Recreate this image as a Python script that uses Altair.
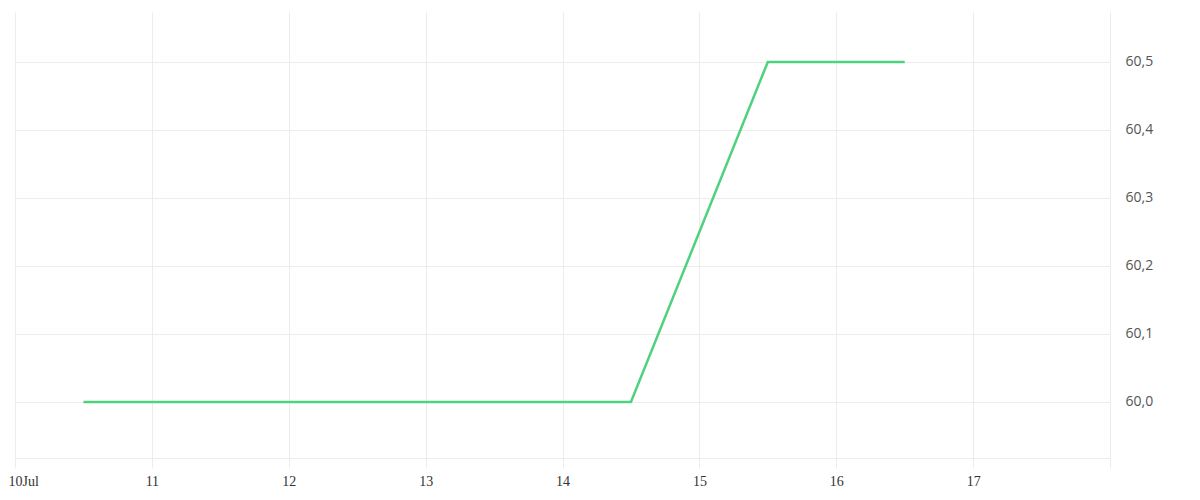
import altair as alt
import pandas as pd

dates = ["2024-07-10T12:00:00", "2024-07-11T12:00:00", "2024-07-12T12:00:00",
         "2024-07-13T12:00:00", "2024-07-14T12:00:00", "2024-07-15T12:00:00",
         "2024-07-16T12:00:00"]
values = [60.0, 60.0, 60.0, 60.0, 60.0, 60.5, 60.5]
tick_days = ["2024-07-10", "2024-07-11", "2024-07-12", "2024-07-13", "2024-07-14",
             "2024-07-15", "2024-07-16", "2024-07-17", "2024-07-18"]
y_ticks = [60.0, 60.1, 60.2, 60.3, 60.4, 60.5]

df = pd.DataFrame({"date": dates, "value": values})

grid_c = "#ececec"
first_test = "utcdate(datum.value) == 10"

x_axis = alt.Axis(
    values=[alt.DateTime(year=2024, month=7, date=int(d[-2:]), utc=True) for d in tick_days],
    labelExpr="utcdate(datum.value) == 10 ? '10Jul' : (utcdate(datum.value) == 18 ? '' : '' + utcdate(datum.value))",
    grid=True, gridColor=grid_c, gridWidth=1,
    domain=True, domainColor=grid_c, domainWidth=1,
    ticks=True, tickColor=grid_c, tickSize=10, tickWidth=1,
    labelFont="Liberation Serif", labelFontSize=14, labelColor="#333333",
    labelPadding=6, labelAngle=0, labelFlush=False, labelOverlap=False,
    labelAlign={"condition": {"test": first_test, "value": "left"}, "value": "center"},
    labelOffset={"condition": {"test": first_test, "value": -7}, "value": 0},
    title=None,
)

y_axis = alt.Axis(
    orient="right", values=y_ticks,
    labelExpr="replace(format(datum.value, '.1f'), '.', ',')",
    grid=True, gridColor=grid_c, gridWidth=1,
    domain=False, ticks=False,
    labelFont="Open Sans", labelFontSize=14, labelColor="#555555",
    labelPadding=15, title=None,
)

chart = alt.Chart(df).mark_line(color="#4fd27e", strokeWidth=2.5).encode(
    x=alt.X("date:T", scale=alt.Scale(type="utc",
            domain=[alt.DateTime(year=2024, month=7, date=10, utc=True),
                    alt.DateTime(year=2024, month=7, date=18, utc=True)]),
            axis=x_axis),
    y=alt.Y("value:Q", scale=alt.Scale(domain=[59.9176, 60.5735], nice=False, zero=False),
            axis=y_axis),
).properties(
    width=1095, height=446,
    autosize=alt.AutoSizeParams(type="none"),
    padding={"left": 7, "top": 4, "right": 80, "bottom": 40},
).configure_view(stroke=None)

chart.save("out.html", embed_options={"renderer": "svg", "actions": False})
